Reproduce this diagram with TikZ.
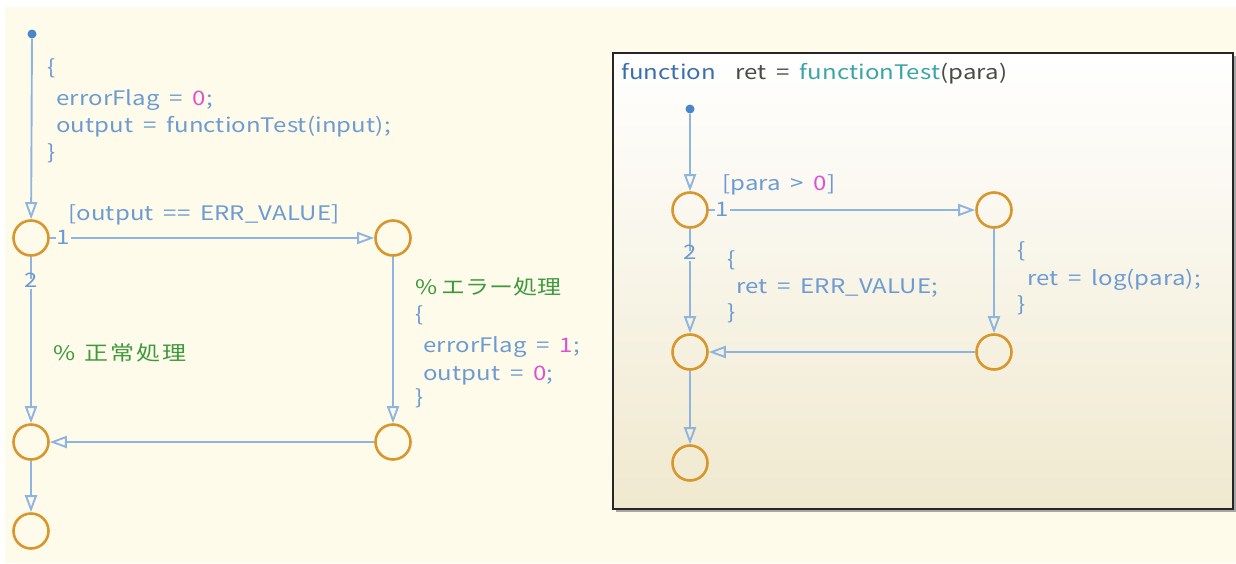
\documentclass[tikz,border=0pt]{standalone}
\usepackage{fontspec}
\setmainfont{Noto Sans CJK JP}[FakeStretch=1.2,WordSpace=1.75,LetterSpace=0.8]
\usetikzlibrary{arrows.meta}
\definecolor{cream}{HTML}{FFFBEA}
\definecolor{boxbot}{HTML}{F0E9CF}
\definecolor{codeblue}{HTML}{6C9BD2}
\definecolor{lineblue}{HTML}{8DB5E0}
\definecolor{dotblue}{HTML}{4A86CC}
\definecolor{juncorange}{HTML}{D8962C}
\definecolor{cmtgreen}{HTML}{3C993C}
\definecolor{numpink}{HTML}{E050D0}
\definecolor{kwblue}{HTML}{3A6EAE}
\definecolor{fnteal}{HTML}{3AA5A5}
\definecolor{hdrgray}{HTML}{4A4A4A}
\newcommand{\nm}[1]{\textcolor{numpink}{#1}}
\begin{document}
\begin{tikzpicture}[x=1pt,y=-1pt,
  junc/.style={circle, draw=juncorange, line width=2.6pt, minimum size=35pt, inner sep=0pt},
  startdot/.style={circle, fill=dotblue, minimum size=9pt, inner sep=0pt},
  conn/.style={draw=lineblue, line width=1.9pt, -{Triangle[open, length=17pt, width=12pt]}},
  code/.style={anchor=west, inner sep=0pt, yshift=-4pt, text=codeblue, font=\fontsize{20}{24}\selectfont, text height=0.74em, text depth=0pt},
  cmt/.style={code, text=cmtgreen},
  lbl/.style={inner sep=1pt, text=codeblue, font=\fontsize{20}{24}\selectfont, text height=0.74em, text depth=0pt}
]
\useasboundingbox (0,0) rectangle (1236,563);
\fill[white] (0,0) rectangle (1236,563);
\fill[cream] (5,7) rectangle (1236,563);

% ---------- left chart ----------
\node[startdot] (s1) at (32,34) {};
\node[junc] (A) at (31,238) {};
\node[junc] (B) at (393,238) {};
\node[junc] (C) at (31,442) {};
\node[junc] (D) at (393,442) {};
\node[junc] (E) at (31,531) {};

\draw[conn] (s1) -- (A);
\draw[conn] (A) -- (B) node[lbl, fill=cream, pos=0, anchor=west, xshift=5pt, yshift=-3pt] {1};
\draw[conn] (A) -- (C) node[lbl, fill=cream, pos=0, yshift=-27pt] {2};
\draw[conn] (B) -- (D);
\draw[conn] (D) -- (C);
\draw[conn] (C) -- (E);

\node[code] (t1) at (47,67) {\{};
\node[code] (t2) at (56,98) {errorFlag = \nm{0};};
\node[code] (t3) at (56,125) {output = functionTest(input);};
\node[code] (t4) at (47,152) {\}};
\node[code] (t5) at (68,213) {[output == ERR\_VALUE]};
\node[cmt] (t6) at (53,353) {\%\hspace{9pt}正\kern2pt 常\kern2pt 処\kern2pt 理};
\node[cmt] (t7) at (415,287) {\%\hspace{4pt}エラー処理};
\node[code] (t8) at (415,314) {\{};
\node[code] (t9) at (423,345) {errorFlag = \nm{1};};
\node[code] (t10) at (423,373) {output = \nm{0};};
\node[code] (t11) at (415,397) {\}};

% ---------- right function box ----------
\fill[black!35] (616,56) rectangle (1236,512);
\shade[top color=white, bottom color=boxbot] (613,53) rectangle (1233,509);
\draw[black!85, line width=2.8pt] (613,53) rectangle (1233,509);
\node[code] (hdr) at (621,72) {\textcolor{kwblue}{function}\ \ \textcolor{hdrgray}{ret =} \textcolor{fnteal}{functionTest}\textcolor{hdrgray}{(para)}};

\node[startdot] (s2) at (690,109) {};
\node[junc] (F) at (690,210) {};
\node[junc] (G) at (994,210) {};
\node[junc] (H) at (690,352) {};
\node[junc] (I) at (994,352) {};
\node[junc] (J) at (690,463) {};

\draw[conn] (s2) -- (F);
\draw[conn] (F) -- (G) node[lbl, fill=boxbot!34!white, pos=0, anchor=west, xshift=5pt, yshift=-3pt] {1};
\draw[conn] (F) -- (H) node[lbl, fill=boxbot!44!white, pos=0, yshift=-27pt] {2};
\draw[conn] (G) -- (I);
\draw[conn] (I) -- (H);
\draw[conn] (H) -- (J);

\node[code] (r1) at (722,183) {[para > \nm{0}]};
\node[code] (r2) at (727,259) {\{};
\node[code] (r3) at (736,286) {ret = ERR\_VALUE;};
\node[code] (r4) at (727,312) {\}};
\node[code] (r5) at (1017,250) {\{};
\node[code] (r6) at (1027,278) {ret = log(para);};
\node[code] (r7) at (1017,304) {\}};
\end{tikzpicture}
\end{document}
